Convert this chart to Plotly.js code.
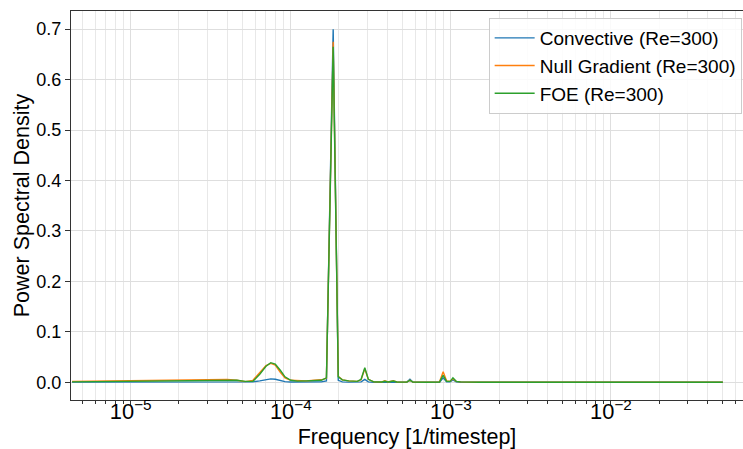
<!DOCTYPE html>
<html>
<head>
<meta charset="utf-8">
<script src="https://cdn.plot.ly/plotly-3.0.1.min.js"></script>
<style>html,body{margin:0;padding:0;background:#fff;}#chart{width:743px;height:449px;}</style>
</head>
<body>
<div id="chart"></div>
<script>
// Frequency [1/timestep]
const freq = [4.3e-6, 6e-6, 8e-6, 1e-5, 1.3e-5, 1.7e-5, 2.2e-5, 2.8e-5, 3.4e-5, 4.0e-5,
  4.6e-5, 5.2e-5, 5.8e-5, 6.4e-5, 7.0e-5, 7.5e-5, 8.0e-5, 8.6e-5, 9.2e-5, 1.0e-4,
  1.1e-4, 1.25e-4, 1.4e-4, 1.55e-4, 1.67e-4, 1.84e-4, 1.98e-4, 2.1e-4, 2.3e-4, 2.6e-4,
  2.75e-4, 2.9e-4, 3.05e-4, 3.3e-4, 3.7e-4, 3.87e-4, 4.05e-4, 4.37e-4, 4.6e-4, 5.3e-4,
  5.55e-4, 5.8e-4, 7.0e-4, 8.5e-4, 8.95e-4, 9.4e-4, 9.9e-4, 1.03e-3, 1.08e-3, 1.15e-3,
  1.5e-3, 3e-3, 1e-2, 5e-2];

const convective = [0.0005, 0.0005, 0.0005, 0.0005, 0.0005, 0.0006, 0.0006, 0.0007, 0.0008, 0.0008,
  0.0008, 0.0008, 0.001, 0.003, 0.006, 0.0068, 0.006, 0.004, 0.0015, 0.0008,
  0.0006, 0.0006, 0.0008, 0.001, 0.003, 0.70, 0.004, 0.001, 0.0005, 0.0005,
  0.001, 0.006, 0.001, 0.0003, 0.0003, 0.001, 0.0003, 0.0015, 0.0003, 0.0003,
  0.006, 0.0003, 0.0002, 0.0003, 0.009, 0.001, 0.001, 0.005, 0.001, 0.0003,
  0.0002, 0.0001, 0.0001, 0.0001];

const nullGradient = [0.002, 0.0025, 0.003, 0.003, 0.0035, 0.004, 0.0045, 0.005, 0.0055, 0.0055,
  0.004, 0.0015, 0.004, 0.02, 0.033, 0.0375, 0.034, 0.02, 0.009, 0.004,
  0.003, 0.003, 0.004, 0.005, 0.008, 0.675, 0.012, 0.005, 0.003, 0.002,
  0.005, 0.027, 0.006, 0.001, 0.0008, 0.003, 0.0008, 0.003, 0.0008, 0.0005,
  0.004, 0.0005, 0.0005, 0.001, 0.021, 0.003, 0.002, 0.007, 0.002, 0.001,
  0.0003, 0.0002, 0.0001, 0.0001];

const foe = [0.001, 0.0015, 0.002, 0.0025, 0.003, 0.003, 0.0035, 0.004, 0.0045, 0.0045,
  0.004, 0.002, 0.002, 0.016, 0.032, 0.039, 0.036, 0.024, 0.011, 0.004,
  0.0025, 0.003, 0.0035, 0.004, 0.009, 0.665, 0.011, 0.005, 0.003, 0.002,
  0.006, 0.029, 0.006, 0.001, 0.0008, 0.002, 0.0008, 0.0025, 0.0008, 0.0005,
  0.004, 0.0005, 0.0003, 0.0008, 0.014, 0.002, 0.002, 0.009, 0.002, 0.001,
  0.0003, 0.0002, 0.0001, 0.0001];

const seriesNames = ['Convective (Re=300)', 'Null Gradient (Re=300)', 'FOE (Re=300)'];
const seriesColors = ['#1f77b4', '#ff7f0e', '#2ca02c'];
const seriesData = [convective, nullGradient, foe];

const traces = seriesData.map((ys, i) => ({
  x: freq, y: ys, type: 'scatter', mode: 'lines', name: seriesNames[i],
  line: {color: seriesColors[i], width: 1.4}
}));

const font = 'Liberation Sans, Arial, sans-serif';
const layout = {
  width: 743, height: 449,
  margin: {l: 71, r: 0, t: 11, b: 49},
  paper_bgcolor: '#fff', plot_bgcolor: '#fff',
  font: {family: font, color: '#000'},
  showlegend: true,
  legend: {
    x: 0.998, y: 0.982, xanchor: 'right', yanchor: 'top',
    bgcolor: 'rgba(255,255,255,0.85)', bordercolor: '#cccccc', borderwidth: 1,
    font: {family: font, size: 19, color: '#000'},
    tracegroupgap: 0, itemwidth: 40
  },
  xaxis: {
    type: 'log', range: [-5.373, -1.175], dtick: 1,
    exponentformat: 'power', showexponent: 'all',
    showline: true, mirror: true, linecolor: '#333', linewidth: 1,
    ticks: 'outside', ticklen: 5, tickcolor: '#333', tickwidth: 1,
    ticklabelstandoff: -12,
    tickfont: {family: font, size: 17.5, color: '#000'},
    showgrid: true, gridcolor: '#dedede', gridwidth: 1, zeroline: false,
    minor: {ticks: 'outside', ticklen: 3, tickcolor: '#333', showgrid: true, gridcolor: '#e8e8e8', gridwidth: 1},
    title: {text: 'Frequency [1/timestep]', font: {family: font, size: 21.5, color: '#000'}, standoff: 6},
    automargin: false
  },
  yaxis: {
    range: [-0.035, 0.736], dtick: 0.1, tick0: 0, tickformat: '.1f',
    showline: true, mirror: false, linecolor: '#333', linewidth: 1,
    ticks: 'outside', ticklen: 5, tickcolor: '#333', tickwidth: 1,
    tickfont: {family: font, size: 18, color: '#000'},
    showgrid: true, gridcolor: '#dedede', gridwidth: 1, zeroline: false,
    title: {text: 'Power Spectral Density', font: {family: font, size: 21.5, color: '#000'}, standoff: 0},
    automargin: false
  }
};

Plotly.newPlot('chart', traces, layout, {displayModeBar: false, staticPlot: true});
</script>
</body>
</html>
